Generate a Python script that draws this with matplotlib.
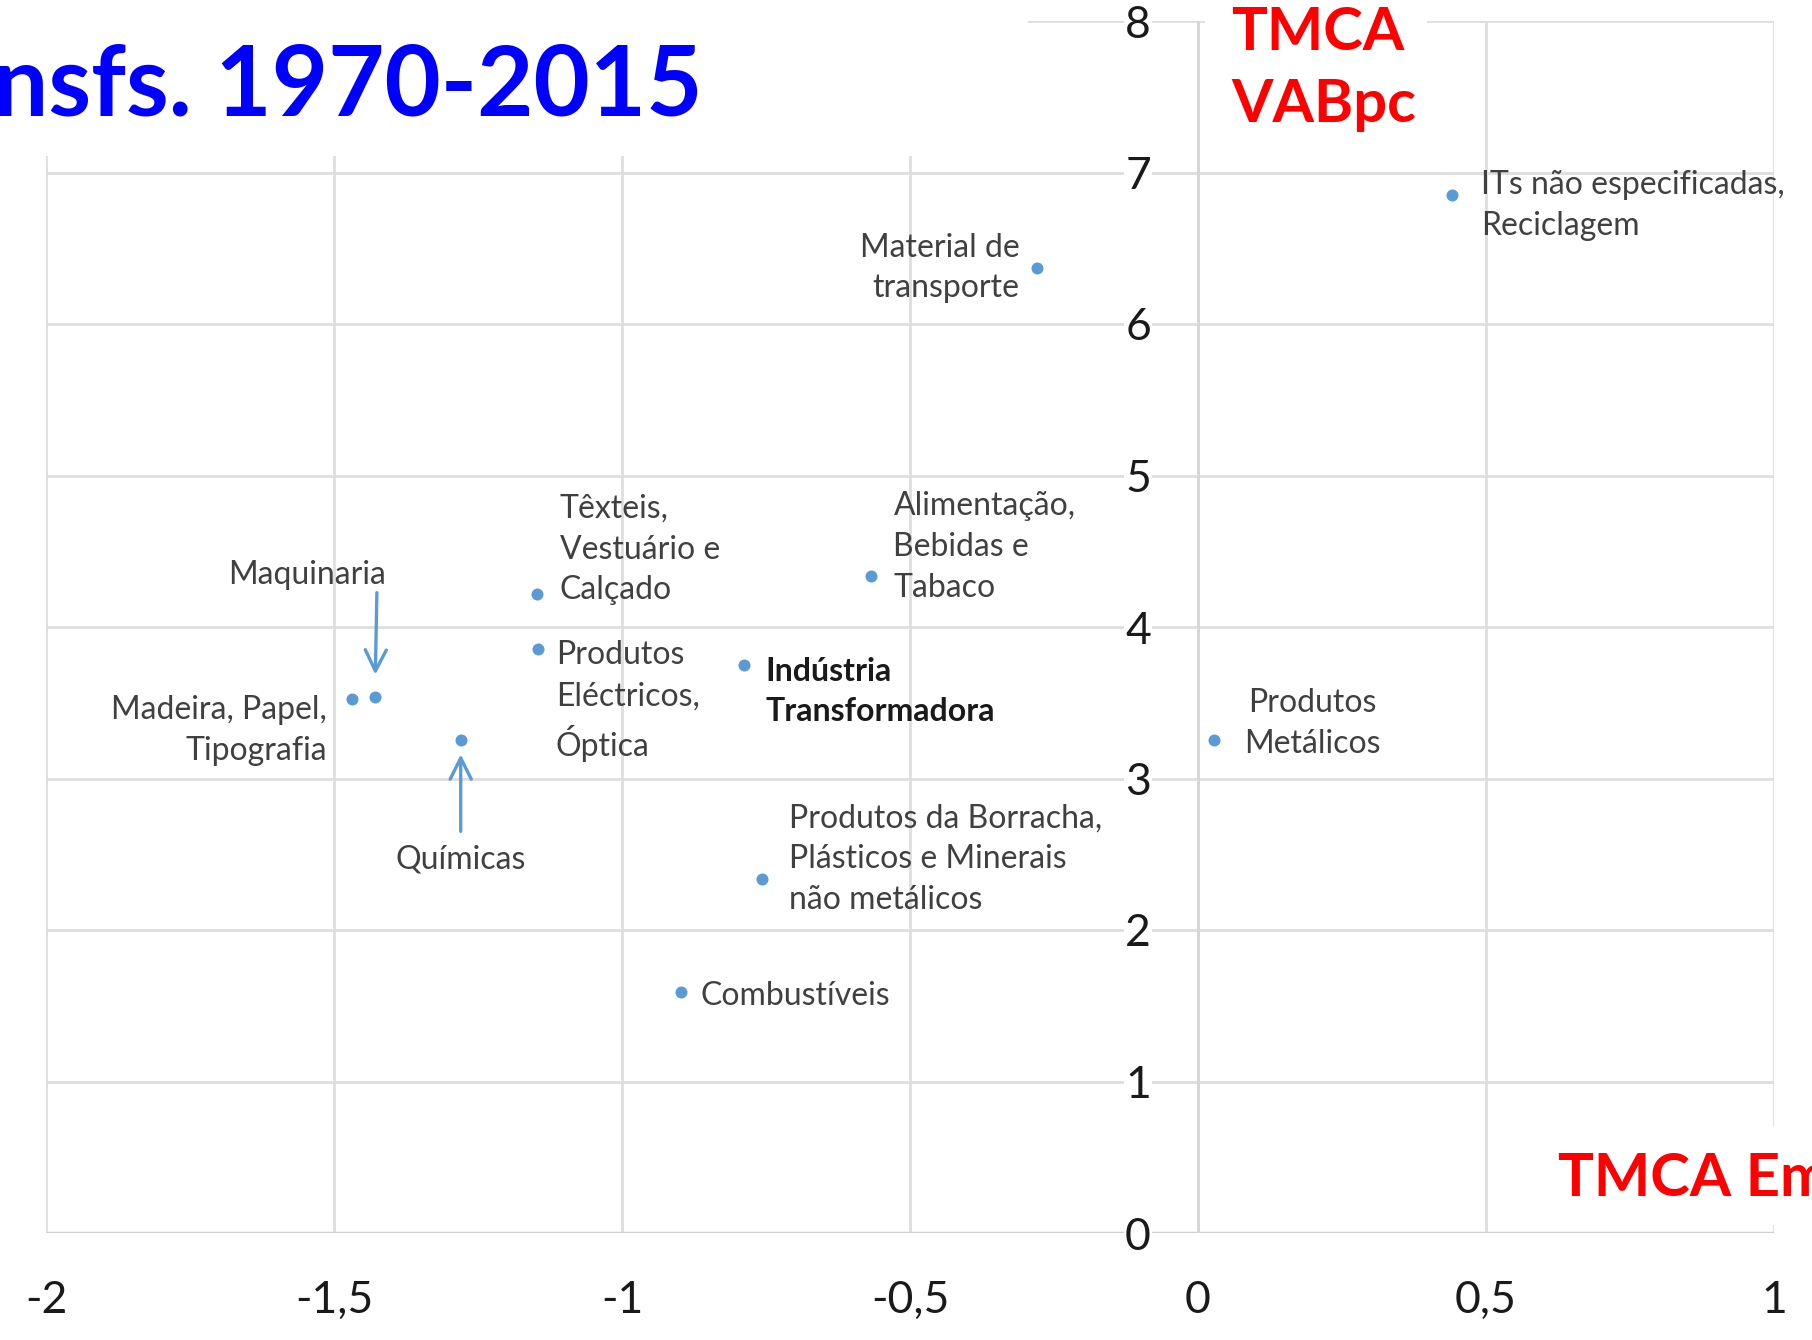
import numpy as np
import matplotlib.pyplot as plt
from matplotlib.patches import Rectangle

plt.rcParams['font.family'] = ['Lato', 'DejaVu Sans']

# TMCA emprego (x) vs TMCA VAB per capita (y), industria transformadora 1970-2015
sectors = ['ITs não especificadas,\nReciclagem',
           'Material de\ntransporte',
           'Alimentação,\nBebidas e\nTabaco',
           'Têxteis,\nVestuário e\nCalçado',
           'Produtos\nEléctricos,\nÓptica',
           'Indústria\nTransformadora',
           'Maquinaria',
           'Madeira, Papel,\nTipografia',
           'Químicas',
           'Produtos\nMetálicos',
           'Produtos da Borracha,\nPlásticos e Minerais\nnão metálicos',
           'Combustíveis']
tmca_emp = [0.441, -0.280, -0.567, -1.148, -1.146, -0.788, -1.429, -1.469, -1.280, 0.028, -0.757, -0.898]
tmca_vab = [6.85, 6.37, 4.335, 4.22, 3.854, 3.75, 3.54, 3.526, 3.252, 3.253, 2.334, 1.59]

x_ticks = [-2, -1.5, -1, -0.5, 0, 0.5, 1]
x_ticklabels = ['-2', '-1,5', '-1', '-0,5', '0', '0,5', '1']
y_ticks = [0, 1, 2, 3, 4, 5, 6, 7, 8]

# label placement: (dx, dy) in pixels from the point, ha
layout = {
    0: (29, -10, 'left'),
    1: (-17, 0, 'right'),
    2: (22, 29, 'left'),
    3: (23, 44, 'left'),
    4: (18, -52, 'left'),
    5: (21, -27, 'left'),
    6: (-68, 122, 'center'),
    7: (-25, -32, 'right'),
    8: (0, -119, 'center'),
    9: (98, 17, 'center'),
    10: (27, 20, 'left'),
    11: (20, -4, 'left'),
}
# arrows: start/end offsets in pixels from the point
arrows = {6: ((2, 104), (2, 22)), 8: ((0, -91), (0, -14))}

dot_color = '#5B9BD5'
grid_color = '#dedede'
text_color = '#404040'

fig = plt.figure(figsize=(18.12, 13.40), dpi=100)
ax = fig.add_axes([46 / 1812, 107 / 1340, 1728 / 1812, 1212 / 1340])

ax.set_xlim(-2, 1)
ax.set_ylim(0, 8)
ax.set_xticks(x_ticks)
ax.set_xticklabels(x_ticklabels)
ax.set_yticks(y_ticks)
ax.set_yticklabels([])
ax.grid(True, color=grid_color, lw=2)
ax.set_axisbelow(True)
for s in ax.spines.values():
    s.set_visible(False)
ax.tick_params(axis='both', length=0)
ax.tick_params(axis='x', pad=34, labelsize=32, labelcolor='#1a1a1a')
ax.axhline(0, color='#cfcfcf', lw=2.5, zorder=1)
ax.axvline(0, color='#d6d6d6', lw=2, zorder=1)

for v in y_ticks:
    ax.annotate(str(v), xy=(0, v), xytext=(-47, -4), textcoords='offset pixels',
                ha='right', va='center', fontsize=32, color='#1a1a1a',
                bbox=dict(facecolor='white', edgecolor='none', pad=1))

ax.scatter(tmca_emp, tmca_vab, s=75, color=dot_color, zorder=3, linewidths=0)

for i, name in enumerate(sectors):
    dx, dy, ha = layout[i]
    bold = name.startswith('Indústria')
    ax.annotate(name, xy=(tmca_emp[i], tmca_vab[i]), xytext=(dx, dy),
                textcoords='offset pixels', ha=ha, va='center', multialignment=ha,
                fontsize=23, linespacing=1.45,
                color='#1a1a1a' if bold else text_color,
                fontweight='bold' if bold else 'normal')

for i, (start, end) in arrows.items():
    ax.annotate('', xy=(tmca_emp[i], tmca_vab[i]), xytext=start,
                textcoords='offset pixels',
                arrowprops=dict(arrowstyle='->', color=dot_color, lw=2.4,
                                mutation_scale=38, shrinkA=0,
                                shrinkB=abs(end[1]) * 0.72))

# white masks behind the overlaid titles
fig.patches.append(Rectangle((0, 1340 - 156), 1028, 156, transform=None,
                             facecolor='white', edgecolor='none', zorder=2))
fig.patches.append(Rectangle((1205, 1340 - 140), 222, 140, transform=None,
                             facecolor='white', edgecolor='none', zorder=2))
fig.patches.append(Rectangle((1545, 1340 - 1225), 267, 98, transform=None,
                             facecolor='white', edgecolor='none', zorder=2))

fig.text(703 / 1812, 1 - 116 / 1340, 'Ind. Transfs. 1970-2015', ha='right', va='baseline',
         fontsize=70, fontweight='bold', color='#0000FF', zorder=5)
fig.text(1231 / 1812, 1 - 6 / 1340, 'TMCA\nVABpc', ha='left', va='top',
         fontsize=43, fontweight='bold', color='#FF0000', linespacing=1.4, zorder=5)
fig.text(1558 / 1812, 1 - 1180 / 1340, 'TMCA Emprego', ha='left', va='center',
         fontsize=43, fontweight='bold', color='#FF0000', zorder=5)

fig.savefig('out.png', dpi=100)
